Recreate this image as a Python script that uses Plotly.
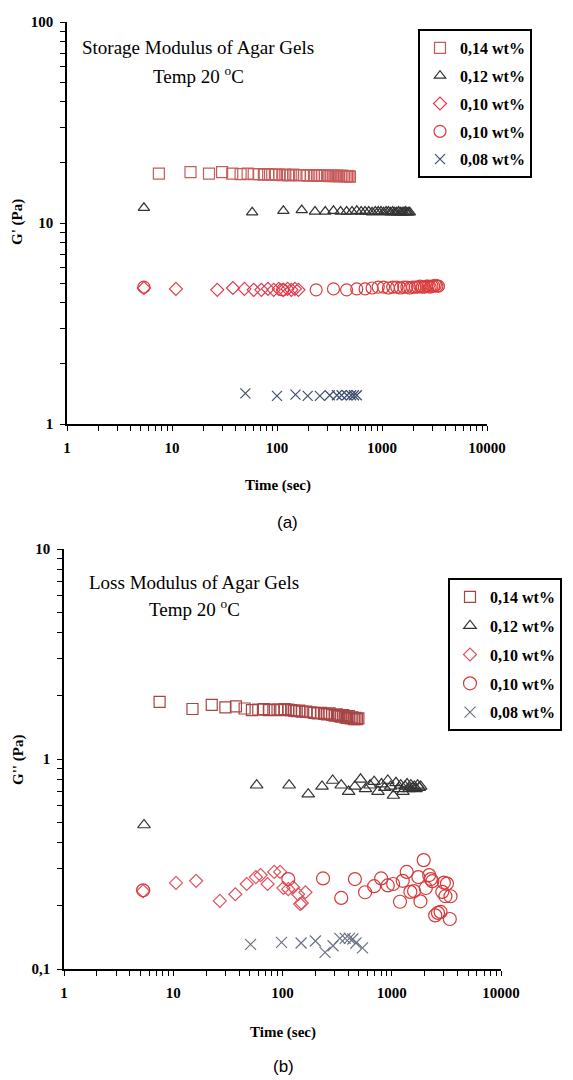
import plotly.graph_objects as go

W, H = 573, 1080

# ---------------- data: panel (a) storage modulus G' ----------------
a_sq_t = [7.5, 15, 22.5, 30, 37.5, 45, 52.5, 60, 67.5, 75, 82.5, 90, 97.5, 105, 112.5, 120, 127.5, 135, 142.5, 150,
          165, 180, 195, 210, 225, 240, 255, 270, 285, 300, 315, 330, 345, 360, 375, 390, 405, 420, 435, 450, 465, 480, 495]
a_sq_g = [17.6, 17.9, 17.6, 17.9, 17.6, 17.5, 17.6, 17.5, 17.5, 17.4, 17.5, 17.4, 17.4, 17.4, 17.3, 17.4, 17.3, 17.3, 17.4, 17.3,
          17.3, 17.3, 17.2, 17.3, 17.2, 17.2, 17.3, 17.2, 17.2, 17.2, 17.1, 17.2, 17.2, 17.1, 17.2, 17.1, 17.1, 17.2, 17.1, 17.1, 17.1, 17.1, 17.0]

tri_t = [5.4, 58, 115, 172, 230, 288, 345, 403, 460, 518, 575, 633, 690, 748, 805, 863, 920, 978, 1035, 1093,
         1150, 1208, 1265, 1323, 1380, 1438, 1495, 1553, 1610, 1668, 1725, 1783, 1840]
a_tri_g = [11.9, 11.3, 11.5, 11.6, 11.4, 11.4, 11.5, 11.4, 11.4, 11.4, 11.5, 11.4, 11.4, 11.4, 11.3, 11.4, 11.4, 11.4, 11.3, 11.4,
           11.4, 11.3, 11.4, 11.3, 11.3, 11.4, 11.3, 11.3, 11.3, 11.4, 11.3, 11.3, 11.3]

a_dia_t = [5.4, 10.9, 27, 38, 49, 60, 71, 82, 93, 104, 115, 126, 137, 148, 160]
a_dia_g = [4.75, 4.7, 4.65, 4.75, 4.7, 4.65, 4.65, 4.7, 4.65, 4.7, 4.65, 4.7, 4.65, 4.7, 4.65]

a_cir_t = [5.4, 113, 236, 345, 460, 575, 690, 805, 920, 1035, 1150, 1265, 1380, 1495, 1610, 1725, 1840, 1955, 2070, 2185,
           2300, 2415, 2530, 2645, 2760, 2875, 2990, 3105, 3220, 3335, 3450]
a_cir_g = [4.8, 4.65, 4.65, 4.7, 4.65, 4.7, 4.7, 4.75, 4.8, 4.8, 4.75, 4.8, 4.8, 4.75, 4.8, 4.8, 4.75, 4.8, 4.8, 4.8,
           4.85, 4.8, 4.8, 4.85, 4.85, 4.8, 4.85, 4.85, 4.9, 4.85, 4.85]

a_x_t = [50, 100, 150, 196, 256, 318, 372, 412, 464, 508, 540, 576]
a_x_g = [1.42, 1.38, 1.40, 1.38, 1.38, 1.39, 1.39, 1.39, 1.39, 1.39, 1.39, 1.39]

# ---------------- data: panel (b) loss modulus G'' ----------------
b_sq_g = [1.87, 1.73, 1.81, 1.76, 1.78, 1.74, 1.71, 1.72, 1.73, 1.71, 1.72, 1.72, 1.71, 1.73, 1.72, 1.71, 1.70, 1.69, 1.70, 1.68,
          1.68, 1.67, 1.66, 1.65, 1.66, 1.64, 1.63, 1.65, 1.62, 1.61, 1.63, 1.60, 1.59, 1.62, 1.58, 1.57, 1.60, 1.56, 1.58, 1.55, 1.57, 1.55, 1.56]

b_tri_g = [0.485, 0.75, 0.75, 0.68, 0.74, 0.79, 0.75, 0.70, 0.74, 0.80, 0.72, 0.75, 0.78, 0.70, 0.76, 0.73, 0.79, 0.74, 0.67, 0.77,
           0.72, 0.75, 0.70, 0.74, 0.76, 0.72, 0.75, 0.73, 0.74, 0.72, 0.75, 0.73, 0.74]

b_dia_t = [5.3, 10.6, 16.2, 26.7, 37, 47, 57, 63, 73, 84, 95, 102, 113, 125, 139, 145, 150, 162]
b_dia_g = [0.235, 0.257, 0.263, 0.211, 0.227, 0.254, 0.274, 0.28, 0.254, 0.29, 0.29, 0.243, 0.24, 0.245, 0.227, 0.204, 0.206, 0.232]

b_cir_t = [5.3, 113, 235, 345, 460, 570, 690, 800, 920, 1030, 1190, 1260, 1370, 1480, 1600, 1750, 1830, 1960, 2050, 2200,
           2280, 2350, 2500, 2650, 2800, 2900, 3000, 3100, 3200, 3400, 3450]
b_cir_g = [0.237, 0.268, 0.27, 0.218, 0.268, 0.232, 0.248, 0.27, 0.25, 0.254, 0.209, 0.263, 0.29, 0.233, 0.235, 0.274, 0.21, 0.33, 0.243, 0.28,
           0.268, 0.262, 0.18, 0.185, 0.187, 0.233, 0.258, 0.222, 0.255, 0.173, 0.222]

b_x_t = [51, 98, 148, 200, 245, 290, 335, 375, 410, 440, 470, 540]
b_x_g = [0.131, 0.134, 0.133, 0.136, 0.12, 0.129, 0.14, 0.14, 0.14, 0.139, 0.133, 0.126]

labels = ["0,14 wt%", "0,12 wt%", "0,10 wt%", "0,10 wt%", "0,08 wt%"]
x_tickvals = [1, 10, 100, 1000, 10000]
x_ticktext = ["1", "10", "100", "1000", "10000"]
ya_tickvals = [1, 10, 100]
ya_ticktext = ["1", "10", "100"]
yb_tickvals = [0.1, 1, 10]
yb_ticktext = ["0,1", "1", "10"]

SERIF = "Liberation Serif"


def px_x(p):
    return p / W


def px_y(p):
    return 1 - p / H


fig = go.Figure()

styles_a = [
    dict(symbol="square-open", size=11, color="#c75b5b"),
    dict(symbol="triangle-up-open", size=10, color="#333333"),
    dict(symbol="diamond-open", size=10, color="#e33a4e"),
    dict(symbol="circle-open", size=12, color="#d93c3c"),
    dict(symbol="x-thin-open", size=10, color="#3d4e6e"),
]
styles_b = [
    dict(symbol="square-open", size=11, color="#a84444"),
    dict(symbol="triangle-up-open", size=11, color="#333333"),
    dict(symbol="diamond-open", size=10, color="#e0505e"),
    dict(symbol="circle-open", size=13, color="#d63a3a"),
    dict(symbol="x-thin-open", size=11, color="#6b7384"),
]

series_a = [(a_sq_t, a_sq_g), (tri_t, a_tri_g), (a_dia_t, a_dia_g), (a_cir_t, a_cir_g), (a_x_t, a_x_g)]
series_b = [(a_sq_t, b_sq_g), (tri_t, b_tri_g), (b_dia_t, b_dia_g), (b_cir_t, b_cir_g), (b_x_t, b_x_g)]

for i, ((t, g), st) in enumerate(zip(series_a, styles_a)):
    fig.add_trace(go.Scatter(
        x=t, y=g, mode="markers", name=labels[i], xaxis="x", yaxis="y",
        legend="legend", legendgroup="a%d" % i,
        marker=dict(symbol=st["symbol"], size=st["size"], color=st["color"],
                    line=dict(color=st["color"], width=1.2)),
    ))

for i, ((t, g), st) in enumerate(zip(series_b, styles_b)):
    fig.add_trace(go.Scatter(
        x=t, y=g, mode="markers", name=labels[i], xaxis="x2", yaxis="y2",
        legend="legend2", legendgroup="b%d" % i,
        marker=dict(symbol=st["symbol"], size=st["size"], color=st["color"],
                    line=dict(color=st["color"], width=1.2)),
    ))

tickfont = dict(family=SERIF, size=15, color="black", weight="bold")

minor_x = [m * 10 ** e for e in range(0, 4) for m in range(2, 10)]
minor_ya = [m * 10 ** e for e in range(0, 2) for m in range(2, 10)]
minor_yb = [m * 10 ** e for e in range(-1, 1) for m in range(2, 10)]

dom_ax = [px_x(67), px_x(487)]
dom_ay = [px_y(424), px_y(22)]
dom_bx = [px_x(64), px_x(501)]
dom_by = [px_y(969), px_y(549)]


def xaxis(domain, anchor, ticks, labels_on, overlay=None):
    d = dict(type="log", range=[0, 4], domain=domain, anchor=anchor, automargin=False,
             tickmode="array", tickvals=x_tickvals, ticktext=x_ticktext,
             ticks=ticks, ticklen=5, tickwidth=1.3, tickcolor="black",
             showgrid=False, zeroline=False,
             minor=dict(tickmode="array", tickvals=minor_x, ticks=ticks, ticklen=5,
                        tickwidth=1.3, tickcolor="black", showgrid=False),
             showticklabels=labels_on, tickfont=tickfont, ticklabelstandoff=4,
             showline=labels_on, linecolor="black", linewidth=1.6)
    if overlay:
        d["overlaying"] = overlay
    return d


def yaxis(domain, anchor, rng, tv, tt, minor_vals, ticks, labels_on, overlay=None):
    d = dict(type="log", range=rng, domain=domain, anchor=anchor, automargin=False,
             tickmode="array", tickvals=tv, ticktext=tt,
             ticks=ticks, ticklen=5, tickwidth=1.3, tickcolor="black",
             showgrid=False, zeroline=False,
             minor=dict(tickmode="array", tickvals=minor_vals, ticks=ticks, ticklen=5,
                        tickwidth=1.3, tickcolor="black", showgrid=False),
             showticklabels=labels_on, tickfont=tickfont, ticklabelstandoff=4,
             showline=labels_on, linecolor="black", linewidth=1.6)
    if overlay:
        d["overlaying"] = overlay
    return d


legend_font = dict(family=SERIF, size=16, color="black", weight="bold")

fig.update_layout(
    width=W, height=H, autosize=False,
    margin=dict(l=0, r=0, t=0, b=0, autoexpand=False),
    paper_bgcolor="white", plot_bgcolor="white",
    xaxis=xaxis(dom_ax, "y", "outside", True),
    yaxis=yaxis(dom_ay, "x", [0, 2], ya_tickvals, ya_ticktext, minor_ya, "outside", True),
    xaxis2=xaxis(dom_bx, "y2", "outside", True),
    yaxis2=yaxis(dom_by, "x2", [-1, 1], yb_tickvals, yb_ticktext, minor_yb, "outside", True),
    xaxis3=xaxis(dom_ax, "y", "inside", False, overlay="x"),
    yaxis3=yaxis(dom_ay, "x", [0, 2], ya_tickvals, ya_ticktext, minor_ya, "inside", False, overlay="y"),
    xaxis4=xaxis(dom_bx, "y2", "inside", False, overlay="x2"),
    yaxis4=yaxis(dom_by, "x2", [-1, 1], yb_tickvals, yb_ticktext, minor_yb, "inside", False, overlay="y2"),
    showlegend=True,
    legend=dict(x=px_x(418), y=px_y(29), xanchor="left", yanchor="top",
                bordercolor="black", borderwidth=2, bgcolor="white",
                font=legend_font, tracegroupgap=4, itemwidth=30),
    legend2=dict(x=px_x(448), y=px_y(578), xanchor="left", yanchor="top",
                 bordercolor="black", borderwidth=2, bgcolor="white",
                 font=legend_font, tracegroupgap=5, itemwidth=30),
)

ann_font = dict(family=SERIF, size=19, color="black")
annotations = [
    dict(x=px_x(198), y=px_y(48), text="Storage Modulus of Agar Gels", font=ann_font),
    dict(x=px_x(198), y=px_y(75), text="Temp 20 <sup>o</sup>C", font=ann_font),
    dict(x=px_x(194), y=px_y(582), text="Loss Modulus of Agar Gels", font=ann_font),
    dict(x=px_x(194), y=px_y(608), text="Temp 20 <sup>o</sup>C", font=ann_font),
    dict(x=px_x(18), y=px_y(222), text="G' (Pa)", textangle=-90,
         font=dict(family=SERIF, size=15, color="black", weight="bold")),
    dict(x=px_x(18), y=px_y(760), text="G'' (Pa)", textangle=-90,
         font=dict(family=SERIF, size=15, color="black", weight="bold")),
    dict(x=px_x(278), y=px_y(485), text="Time (sec)",
         font=dict(family=SERIF, size=15, color="black", weight="bold")),
    dict(x=px_x(283), y=px_y(1032), text="Time (sec)",
         font=dict(family=SERIF, size=15, color="black", weight="bold")),
    dict(x=px_x(287), y=px_y(522), text="(a)",
         font=dict(family="Liberation Sans", size=17, color="black")),
    dict(x=px_x(283), y=px_y(1066), text="(b)",
         font=dict(family="Liberation Sans", size=17, color="black")),
]
for a in annotations:
    a.update(xref="paper", yref="paper", showarrow=False, xanchor="center", yanchor="middle")
fig.update_layout(annotations=annotations)

fig.write_html("out.html", config={"displayModeBar": False},
               post_script="document.body.style.margin='0';")
